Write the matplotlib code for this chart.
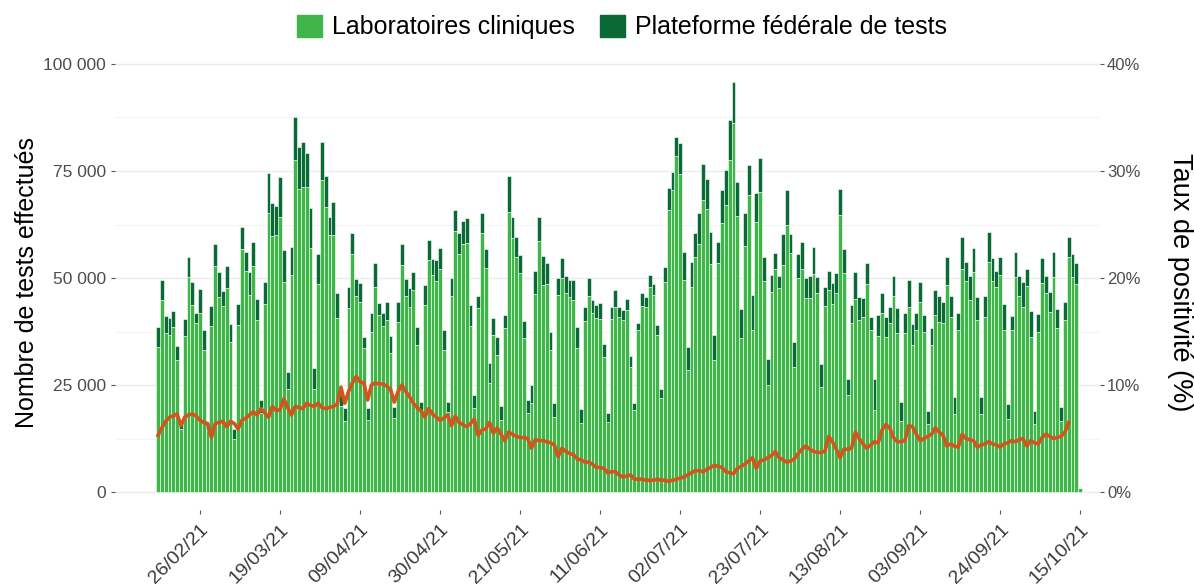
import numpy as np
import pandas as pd
import matplotlib
matplotlib.use("Agg")
import matplotlib.pyplot as plt
import matplotlib.dates as mdates
import matplotlib.transforms as mtransforms
from matplotlib.patches import Patch

plt.rcParams['font.family'] = ['Liberation Sans', 'DejaVu Sans']

# Daily values from 15/02/21 to 15/10/21 (thousands of tests)
start_date = '2021-02-15'
total_k = [
    38.6, 49.5, 41.1, 40.6, 42.3, 34.1, 16.8,
    40.4, 55.0, 49.0, 41.8, 47.4, 37.8, 16.4,
    43.5, 58.0, 51.4, 47.0, 52.8, 39.2, 14.8,
    44.0, 62.0, 56.0, 51.4, 58.4, 45.0, 21.5,
    49.0, 74.5, 67.5, 66.8, 73.6, 56.5, 28.0,
    57.3, 87.6, 80.6, 81.8, 79.2, 66.4, 29.0,
    55.5, 81.8, 73.8, 64.3, 67.8, 46.5, 23.0,
    19.6, 48.0, 60.5, 49.7, 48.9, 36.3, 19.6,
    41.8, 53.6, 44.1, 41.8, 44.5, 36.4, 19.9,
    44.5, 57.9, 49.7, 47.6, 51.4, 38.6, 21.0,
    48.4, 58.9, 54.4, 54.2, 57.0, 37.8, 21.0,
    50.0, 65.9, 60.5, 63.3, 64.0, 43.7, 22.7,
    45.8, 65.2, 56.8, 30.1, 40.7, 36.2, 20.1,
    41.4, 73.8, 64.3, 59.6, 55.4, 40.0, 21.5,
    25.0, 51.6, 64.3, 55.1, 53.5, 37.4, 20.8,
    50.0, 54.7, 50.5, 49.5, 49.5, 38.6, 19.4,
    43.2, 50.0, 44.9, 43.7, 44.2, 34.6, 18.5,
    43.2, 47.2, 43.2, 42.5, 45.1, 31.8, 20.8,
    39.5, 46.5, 45.6, 50.7, 48.6, 39.0, 24.0,
    52.6, 71.0, 74.8, 82.9, 81.5, 56.1, 33.9,
    53.7, 60.5, 65.2, 76.6, 73.2, 60.7, 36.7,
    58.4, 70.6, 75.2, 86.9, 95.8, 72.4, 42.8,
    65.2, 76.4, 46.0, 69.9, 78.0, 54.9, 31.0,
    50.7, 55.8, 50.5, 60.3, 70.6, 60.3, 35.0,
    55.6, 58.4, 50.0, 50.5, 57.2, 50.2, 29.9,
    47.9, 51.6, 48.8, 51.2, 70.8, 56.8, 26.4,
    43.7, 51.4, 45.6, 45.3, 53.5, 40.9, 26.4,
    41.4, 46.5, 40.9, 43.2, 50.5, 43.0, 21.0,
    41.8, 49.5, 39.3, 41.8, 49.0, 41.4, 19.0,
    38.3, 47.2, 45.8, 44.4, 55.0, 45.8, 22.2,
    41.8, 59.6, 53.7, 50.5, 57.0, 45.6, 22.2,
    45.8, 60.7, 54.7, 51.6, 55.0, 43.9, 20.6,
    41.1, 56.1, 50.5, 49.0, 52.1, 42.3, 19.0,
    41.6, 54.7, 50.5, 46.7, 56.1, 42.8, 19.9,
    44.4, 59.6, 55.6, 53.5, 1.0,
]
federal_k = [
    4.7, 4.7, 4.0, 3.9, 3.7, 3.3, 2.0,
    4.0, 4.7, 5.4, 2.3, 5.6, 4.7, 2.0,
    4.8, 5.3, 5.8, 3.5, 5.2, 4.1, 2.5,
    4.9, 5.2, 4.3, 5.3, 5.5, 4.8, 3.0,
    5.0, 9.3, 7.8, 6.8, 9.3, 7.4, 3.9,
    6.6, 10.0, 9.7, 10.5, 8.0, 9.3, 5.0,
    7.0, 9.0, 7.2, 4.3, 7.8, 5.8, 3.0,
    3.0, 5.0, 5.0, 4.0, 4.4, 2.7, 2.7,
    4.3, 5.6, 2.7, 3.0, 4.3, 4.0, 2.7,
    4.7, 4.9, 4.0, 4.3, 4.3, 4.3, 2.3,
    4.7, 4.7, 3.7, 5.0, 5.0, 4.7, 2.3,
    4.3, 5.0, 4.8, 5.3, 5.8, 5.0, 3.0,
    2.9, 4.8, 4.4, 4.7, 3.9, 4.1, 3.3,
    3.1, 8.3, 5.0, 4.7, 4.3, 4.0, 3.1,
    4.3, 5.3, 5.7, 6.8, 5.0, 4.3, 3.3,
    3.9, 4.7, 4.0, 3.9, 4.7, 5.0, 3.3,
    3.3, 4.3, 3.1, 3.1, 3.7, 3.0, 2.1,
    2.7, 3.9, 2.2, 2.3, 2.5, 2.5, 1.7,
    1.7, 3.1, 2.3, 2.7, 2.6, 2.3, 2.1,
    3.6, 5.0, 4.3, 4.5, 7.2, 6.6, 5.5,
    5.8, 5.5, 7.2, 8.4, 7.0, 7.4, 5.8,
    5.0, 7.8, 8.2, 9.3, 9.7, 7.8, 6.8,
    7.8, 7.0, 8.2, 6.8, 8.0, 5.5, 6.0,
    3.9, 3.7, 2.9, 7.2, 8.2, 4.5, 5.8,
    5.7, 6.2, 4.7, 5.2, 6.2, 3.7, 5.3,
    4.5, 4.5, 4.8, 4.8, 6.0, 5.6, 3.7,
    4.3, 6.2, 5.3, 4.3, 4.8, 3.1, 7.2,
    5.0, 4.7, 4.7, 3.7, 4.8, 5.8, 4.3,
    4.7, 6.2, 4.9, 4.0, 4.7, 3.9, 3.1,
    3.9, 5.8, 6.0, 5.0, 6.6, 4.8, 3.9,
    3.9, 7.6, 4.3, 5.6, 5.5, 5.5, 3.9,
    4.8, 7.0, 5.5, 3.7, 4.3, 6.0, 3.6,
    3.3, 5.8, 4.8, 5.8, 4.0, 6.0, 3.0,
    4.1, 5.8, 4.0, 4.7, 5.8, 4.4, 3.3,
    4.3, 4.7, 5.3, 4.8, 0.0,
]
# positivity rate (%), available until 12/10/21
positivity = [
    5.3, 6.0, 6.6, 7.0, 7.1, 7.3, 6.2,
    7.0, 7.2, 7.3, 7.1, 6.7, 6.5, 6.4,
    5.1, 6.4, 6.5, 6.6, 6.1, 6.6, 6.4,
    5.9, 6.7, 6.9, 7.2, 7.5, 7.2, 7.8,
    7.4, 7.0, 8.0, 7.6, 7.7, 8.7, 7.9,
    7.2, 8.0, 7.9, 7.8, 8.3, 8.1, 8.0,
    8.3, 7.9, 7.8, 7.9, 8.0, 8.2, 9.8,
    8.3, 9.4, 10.2, 10.8, 10.3, 10.2, 8.6,
    10.0, 10.2, 10.1, 10.1, 9.9, 9.6, 8.4,
    9.4, 10.0, 9.4, 8.9, 8.3, 7.9, 7.6,
    7.0, 7.8, 7.3, 7.0, 6.7, 6.9, 7.2,
    6.2, 7.1, 6.5, 6.3, 6.1, 6.4, 6.8,
    5.3, 5.8, 5.9, 6.5, 5.5, 6.0, 5.4,
    4.8, 5.6, 5.4, 5.2, 5.1, 5.1, 5.0,
    4.1, 4.9, 4.8, 4.8, 4.7, 4.6, 4.4,
    3.3, 4.1, 3.8, 3.6, 3.5, 3.1, 3.0,
    2.8, 2.8, 2.6, 2.3, 2.3, 2.2, 1.8,
    1.9, 1.9, 1.6, 1.4, 1.5, 1.6, 1.2,
    1.2, 1.2, 1.1, 1.1, 1.1, 1.2, 1.1,
    1.1, 1.0, 1.1, 1.2, 1.3, 1.4, 1.6,
    1.8, 2.0, 2.0, 1.9, 2.1, 2.3, 2.5,
    2.4, 2.3, 1.9, 1.8, 1.7, 2.2, 2.4,
    2.6, 2.9, 3.2, 2.2, 2.9, 3.0, 3.2,
    3.4, 3.8, 3.2, 3.0, 2.8, 2.9, 3.1,
    3.6, 4.0, 4.3, 4.0, 3.8, 3.7, 3.7,
    3.8, 5.2, 4.7, 4.0, 3.2, 4.0, 4.0,
    4.1, 5.6, 5.0, 4.5, 4.1, 4.4, 4.7,
    4.6, 5.8, 6.3, 6.0, 5.1, 4.7, 4.7,
    4.8, 6.2, 6.1, 5.4, 4.8, 5.0, 5.2,
    5.4, 6.0, 5.6, 5.3, 4.3, 4.5, 4.3,
    4.2, 5.4, 5.0, 4.9, 4.8, 4.2, 4.4,
    4.5, 4.7, 4.5, 4.4, 4.2, 4.5, 4.6,
    4.8, 4.7, 4.9, 5.0, 4.3, 4.8, 4.6,
    4.5, 5.1, 5.4, 5.2, 5.0, 5.1, 5.2,
    5.6, 6.5,
]
tick_dates = pd.date_range('2021-02-26', '2021-10-15', freq='21D')

c_lab = '#40b54a'
c_fed = '#0a6a36'
c_pos = '#d2561c'
c_grid = '#ebebeb'
c_txt = '#4d4d4d'

dates = pd.date_range(start_date, periods=len(total_k))
x = mdates.date2num(dates)
total = np.array(total_k) * 1000
fed = np.array(federal_k) * 1000
lab = total - fed
xp = x[:len(positivity)]

fig = plt.figure(figsize=(11.94, 5.87), dpi=100)
ax = fig.add_axes([115 / 1194, 1 - 510 / 587, 985 / 1194, 455 / 587])
ax2 = ax.twinx()

ax.bar(x, lab, width=1.0, color=c_lab, edgecolor='white', linewidth=0.4, zorder=2)
ax.bar(x, fed, bottom=lab, width=1.0, color=c_fed, edgecolor='white', linewidth=0.4, zorder=2)
ax2.plot(xp, positivity, color=c_pos, lw=2.6, solid_joinstyle='round', zorder=3)

ax.set_ylim(-4200, 102100)
ax2.set_ylim(-4200 * 0.4 / 1000, 102100 * 0.4 / 1000)
ax.set_xlim(x[0] - 11.3, x[0] + 247.2)

ax.set_yticks([0, 25000, 50000, 75000, 100000])
ax.set_yticklabels(['0', '25 000', '50 000', '75 000', '100 000'])
ax.set_yticks([12500, 37500, 62500, 87500], minor=True)
ax2.set_yticks([0, 10, 20, 30, 40])
ax2.set_yticklabels(['0%', '10%', '20%', '30%', '40%'])
ax.grid(axis='y', which='major', color=c_grid, lw=1.0, zorder=0)
ax.grid(axis='y', which='minor', color='#f4f4f4', lw=0.8, zorder=0)
ax.set_axisbelow(True)

ax.set_xticks(mdates.date2num(tick_dates))
ax.set_xticklabels([d.strftime('%d/%m/%y') for d in tick_dates], rotation=45,
                   ha='right', rotation_mode='anchor')
shift = mtransforms.ScaledTranslation(9 / 100, 0, fig.dpi_scale_trans)
for lbl in ax.get_xticklabels():
    lbl.set_transform(lbl.get_transform() + shift)

for a in (ax, ax2):
    for s in a.spines.values():
        s.set_visible(False)
    a.tick_params(which='both', length=3, width=0.8, color='#555555',
                  labelcolor=c_txt, labelsize=12.5)
ax.tick_params(which='minor', length=0)
ax.tick_params(axis='x', labelsize=14, labelcolor='#3a3a3a', pad=5)
ax2.tick_params(axis='y', pad=2, labelsize=12)

ax.set_ylabel('Nombre de tests effectués', fontsize=18, color='black', labelpad=3)
ax2.set_ylabel('Taux de positivité (%)', fontsize=19.5, color='black', rotation=-90,
               labelpad=38)

handles = [Patch(color=c_lab, label='Laboratoires cliniques'),
           Patch(color=c_fed, label='Plateforme fédérale de tests')]
fig.legend(handles=handles, loc='center', bbox_to_anchor=(0.521, 1 - 27 / 587), ncol=2,
           frameon=False, fontsize=18, handlelength=1.0, handleheight=1.0,
           handletextpad=0.4, columnspacing=1.0)

fig.savefig('out.png', dpi=100)
